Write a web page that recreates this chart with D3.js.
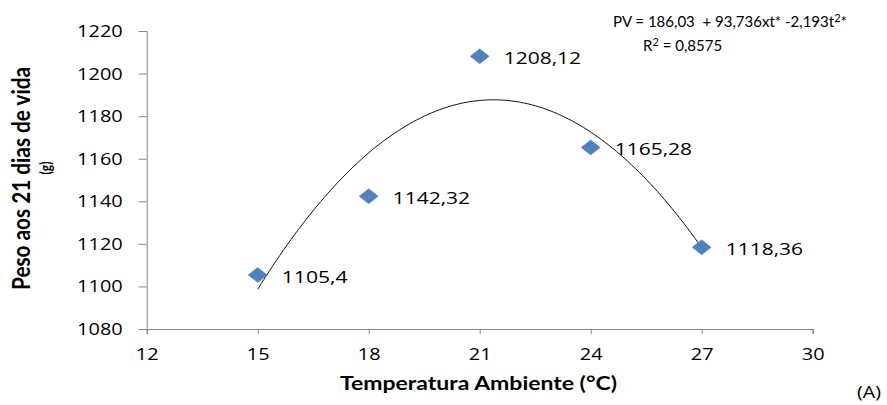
<!DOCTYPE html>
<html>
<head>
<meta charset="utf-8">
<script src="https://cdn.jsdelivr.net/npm/d3@7"></script>
<style>
  html, body { margin: 0; padding: 0; background: #fff; }
  svg { display: block; }
  text { font-family: "Open Sans", Lato, sans-serif; fill: #000; }
</style>
</head>
<body>
<svg id="chart" width="887" height="405"></svg>
<script>
// Temperature treatments (°C) and mean body weight at 21 days (g)
const temperatures = [15, 18, 21, 24, 27];
const weights = [1105.4, 1142.32, 1208.12, 1165.28, 1118.36];
const pointLabels = ["1105,4", "1142,32", "1208,12", "1165,28", "1118,36"];

// Axis ticks
const xTicks = [12, 15, 18, 21, 24, 27, 30];
const yTicks = [1080, 1100, 1120, 1140, 1160, 1180, 1200, 1220];

// Quadratic fit: PV = b0 + b1·t + b2·t²
const fitCoef = [186.03, 93.736, -2.193];
const fitRange = [15, 27];

const svg = d3.select("#chart");

const x = d3.scaleLinear().domain([12, 30]).range([146.7, 812.7]);
const y = d3.scaleLinear().domain([1080, 1220]).range([329, 31]);

const axisColor = "#868686";
const numFont = "'Open Sans', sans-serif";

// Wide numeric glyphs: width from digit and comma counts
const wideLen = s => s.split("").reduce((w, c) => w + (c === "," ? 9 : 11.4), 0);

// Y axis
const yAxis = svg.append("g")
  .attr("transform", `translate(${x(12)},0)`)
  .call(d3.axisLeft(y).tickValues(yTicks).tickSize(8).tickPadding(16).tickFormat(d3.format("d")));
yAxis.select(".domain").attr("stroke", axisColor);
yAxis.selectAll(".tick line").attr("stroke", axisColor);
yAxis.selectAll(".tick text")
  .attr("font-family", numFont).attr("font-size", 17).attr("fill", "#000")
  .attr("textLength", d => wideLen(String(d))).attr("lengthAdjust", "spacingAndGlyphs");

// X axis
const xAxis = svg.append("g")
  .attr("transform", `translate(0,${y(1080)})`)
  .call(d3.axisBottom(x).tickValues(xTicks).tickSize(5).tickPadding(14).tickFormat(d3.format("d")));
xAxis.select(".domain").attr("stroke", axisColor);
xAxis.selectAll(".tick line").attr("stroke", axisColor);
xAxis.selectAll(".tick text")
  .attr("font-family", numFont).attr("font-size", 17).attr("fill", "#000")
  .attr("textLength", d => wideLen(String(d))).attr("lengthAdjust", "spacingAndGlyphs");

// Fitted curve
const curveT = d3.range(fitRange[0], fitRange[1] + 0.001, 0.1);
const fit = t => fitCoef[0] + fitCoef[1] * t + fitCoef[2] * t * t;
svg.append("path")
  .datum(curveT)
  .attr("fill", "none")
  .attr("stroke", "#111")
  .attr("stroke-width", 1)
  .attr("d", d3.line().x(t => x(t)).y(t => y(fit(t))));

// Data markers (diamonds, wider than tall)
const mw = 9.5, mh = 7.5;
svg.append("g").selectAll("path")
  .data(temperatures)
  .join("path")
  .attr("d", `M0,${-mh}L${mw},0L0,${mh}L${-mw},0Z`)
  .attr("transform", (t, i) => `translate(${x(t)},${y(weights[i])})`)
  .attr("fill", "#4F81BD")
  .attr("stroke", "#4A7EBB")
  .attr("stroke-width", 0.5);

// Data labels
svg.append("g").selectAll("text")
  .data(temperatures)
  .join("text")
  .attr("x", t => x(t) + 24)
  .attr("y", (t, i) => y(weights[i]) + 8)
  .attr("font-family", numFont)
  .attr("font-size", 17)
  .attr("textLength", (t, i) => wideLen(pointLabels[i]))
  .attr("lengthAdjust", "spacingAndGlyphs")
  .text((t, i) => pointLabels[i]);

// Equation and R²
svg.append("text")
  .attr("x", 613).attr("y", 27)
  .style("font-family", "Lato, sans-serif")
  .style("font-size", "15px")
  .html('PV = 186,03 &#160;+ 93,736xt* -2,193t<tspan dy="-5" style="font-size:11px">2</tspan><tspan dy="5">*</tspan>');
svg.append("text")
  .attr("x", 643).attr("y", 51)
  .style("font-family", "Lato, sans-serif")
  .style("font-size", "15px")
  .html('R<tspan dy="-5" style="font-size:11px">2</tspan><tspan dy="5"> = 0,8575</tspan>');

// Axis titles
svg.append("text")
  .attr("transform", "translate(30,178.5) scale(1.2,1) rotate(-90)")
  .attr("text-anchor", "middle")
  .style("font-family", "Lato, sans-serif")
  .style("font-size", "20px")
  .style("font-weight", "bold")
  .attr("textLength", 223)
  .attr("lengthAdjust", "spacingAndGlyphs")
  .text("Peso aos 21 dias de vida");
svg.append("text")
  .attr("transform", "translate(51,168) scale(1.2,1) rotate(-90)")
  .attr("text-anchor", "middle")
  .style("font-family", "Lato, sans-serif")
  .style("font-size", "12px")
  .style("font-weight", "bold")
  .text("(g)");

svg.append("text")
  .attr("x", 478.5).attr("y", 390)
  .attr("text-anchor", "middle")
  .style("font-family", "Lato, sans-serif")
  .style("font-size", "18px")
  .style("font-weight", "bold")
  .attr("textLength", 277)
  .attr("lengthAdjust", "spacingAndGlyphs")
  .text("Temperatura Ambiente (°C)");

svg.append("text")
  .attr("x", 857).attr("y", 398)
  .attr("font-size", 16)
  .attr("textLength", 24)
  .attr("lengthAdjust", "spacingAndGlyphs")
  .text("(A)");
</script>
</body>
</html>
